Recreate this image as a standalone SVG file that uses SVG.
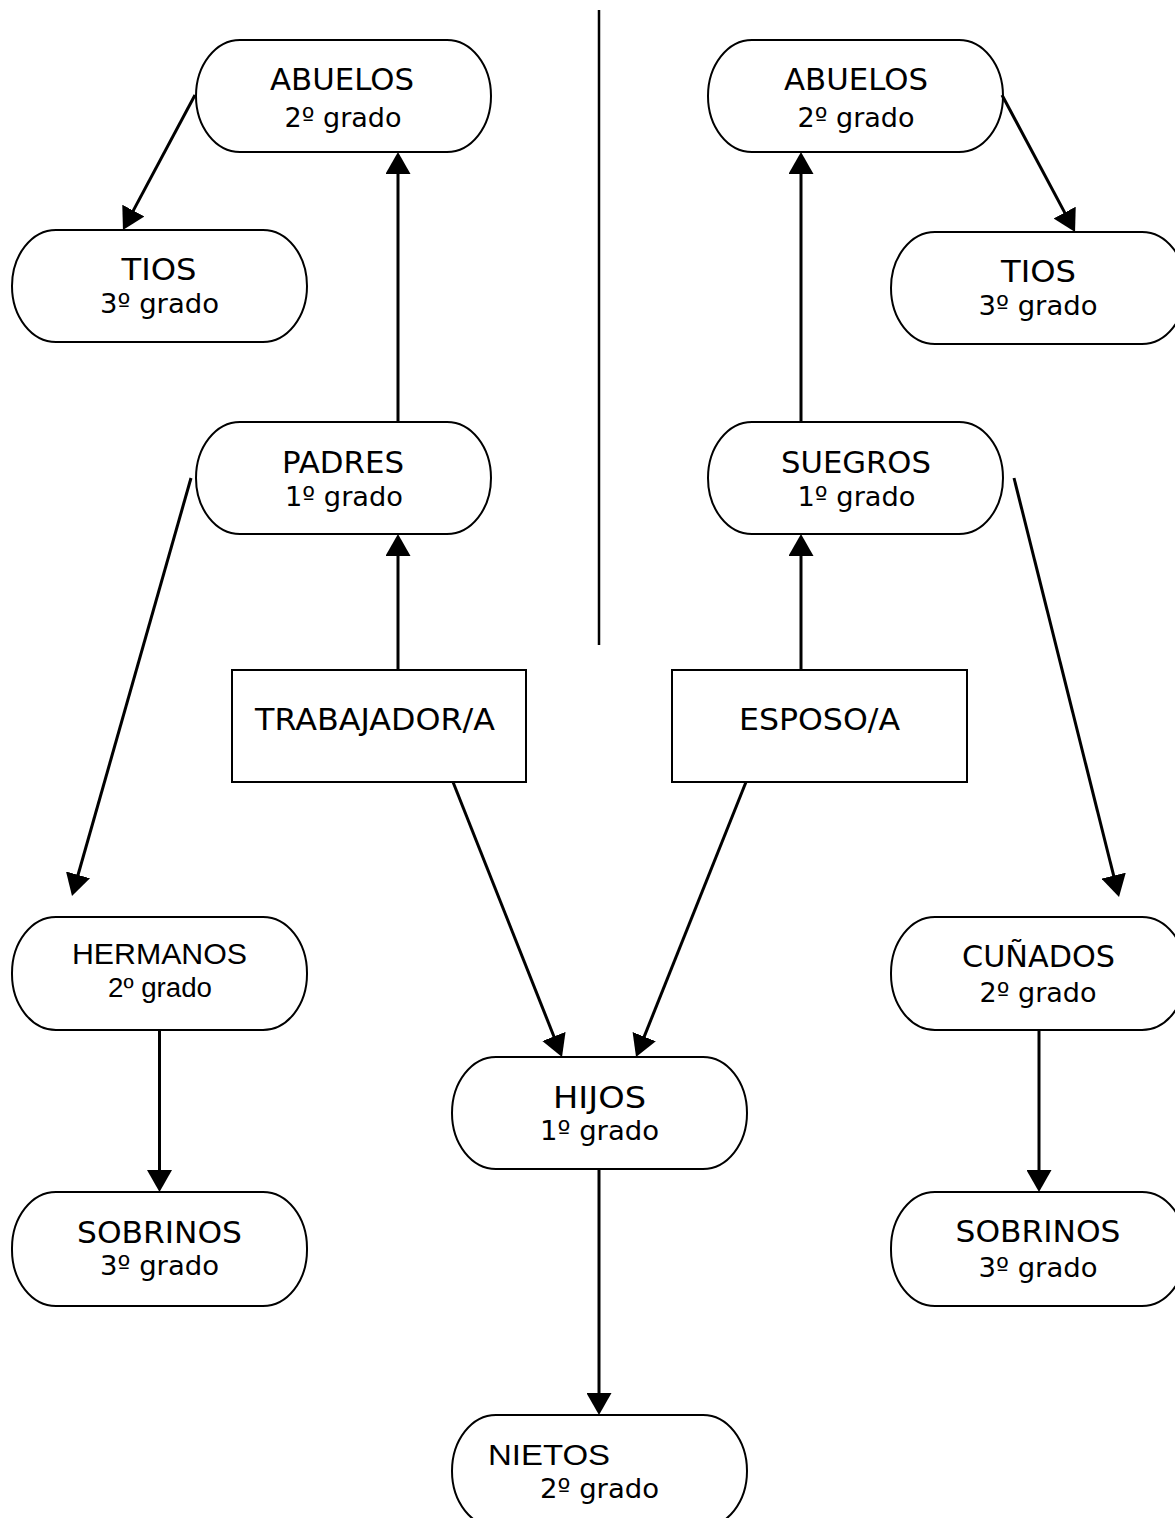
<svg xmlns="http://www.w3.org/2000/svg" width="1175" height="1518" viewBox="0 0 1175 1518">
<style>
.n{fill:#fff;stroke:#000;stroke-width:2}
.t{font-family:"DejaVu Sans",Verdana,sans-serif;font-size:30px;fill:#000;text-anchor:middle}
.s{font-family:"DejaVu Sans",Verdana,sans-serif;font-size:27px;fill:#000;text-anchor:middle}
.a{font-family:"Liberation Sans",Arial,sans-serif;font-size:30px;fill:#000;text-anchor:middle}
.as{font-family:"Liberation Sans",Arial,sans-serif;font-size:27px;fill:#000;text-anchor:middle}
.c{stroke:#000;stroke-width:3;fill:none}
.c line{marker-end:url(#ah)}
</style>
<defs>
<marker id="ah" viewBox="0 0 22 25" refX="10" refY="12.5" markerWidth="22" markerHeight="25" markerUnits="userSpaceOnUse" orient="auto">
<path d="M0,0 L22,12.5 L0,25 z" fill="#000"/>
</marker>
</defs>

<line x1="599" y1="10" x2="599" y2="645" stroke="#000" stroke-width="2.5"/>

<g id="abuelos-l"><rect class="n" x="196" y="40" width="295" height="112" rx="44" ry="56"/>
<text class="t" x="342" y="90" textLength="144" lengthAdjust="spacingAndGlyphs">ABUELOS</text>
<text class="s" x="343" y="127" textLength="117" lengthAdjust="spacingAndGlyphs">2º grado</text></g>

<g id="tios-l"><rect class="n" x="12" y="230" width="295" height="112" rx="44" ry="56"/>
<text class="t" x="159" y="280" textLength="75" lengthAdjust="spacingAndGlyphs">TIOS</text>
<text class="s" x="159.5" y="313" textLength="119" lengthAdjust="spacingAndGlyphs">3º grado</text></g>

<g id="padres"><rect class="n" x="196" y="422" width="295" height="112" rx="44" ry="56"/>
<text class="t" x="343" y="473" textLength="122" lengthAdjust="spacingAndGlyphs">PADRES</text>
<text class="s" x="344" y="506" textLength="118" lengthAdjust="spacingAndGlyphs">1º grado</text></g>

<g id="abuelos-r"><rect class="n" x="708" y="40" width="295" height="112" rx="44" ry="56"/>
<text class="t" x="856" y="90" textLength="144" lengthAdjust="spacingAndGlyphs">ABUELOS</text>
<text class="s" x="856" y="127" textLength="117" lengthAdjust="spacingAndGlyphs">2º grado</text></g>

<g id="tios-r"><rect class="n" x="891" y="232" width="295" height="112" rx="44" ry="56"/>
<text class="t" x="1038.5" y="282" textLength="75" lengthAdjust="spacingAndGlyphs">TIOS</text>
<text class="s" x="1038" y="315" textLength="119" lengthAdjust="spacingAndGlyphs">3º grado</text></g>

<g id="suegros"><rect class="n" x="708" y="422" width="295" height="112" rx="44" ry="56"/>
<text class="t" x="856" y="473" textLength="150" lengthAdjust="spacingAndGlyphs">SUEGROS</text>
<text class="s" x="856.5" y="506" textLength="118" lengthAdjust="spacingAndGlyphs">1º grado</text></g>

<g id="trabajador"><rect class="n" x="232" y="670" width="294" height="112"/>
<text class="t" x="375" y="730" textLength="240" lengthAdjust="spacingAndGlyphs">TRABAJADOR/A</text></g>

<g id="esposo"><rect class="n" x="672" y="670" width="295" height="112"/>
<text class="t" x="819.5" y="730" textLength="161" lengthAdjust="spacingAndGlyphs">ESPOSO/A</text></g>

<g id="hermanos"><rect class="n" x="12" y="917" width="295" height="113" rx="44" ry="56"/>
<text class="a" x="159.5" y="964" textLength="175" lengthAdjust="spacingAndGlyphs">HERMANOS</text>
<text class="as" x="160" y="997" textLength="104" lengthAdjust="spacingAndGlyphs">2º grado</text></g>

<g id="sobrinos-l"><rect class="n" x="12" y="1192" width="295" height="114" rx="44" ry="56"/>
<text class="t" x="159.5" y="1243" textLength="165" lengthAdjust="spacingAndGlyphs">SOBRINOS</text>
<text class="s" x="159.5" y="1275" textLength="119" lengthAdjust="spacingAndGlyphs">3º grado</text></g>

<g id="cunados"><rect class="n" x="891" y="917" width="295" height="113" rx="44" ry="56"/>
<text class="t" x="1038.5" y="967" textLength="153" lengthAdjust="spacingAndGlyphs">CUÑADOS</text>
<text class="s" x="1038" y="1002" textLength="117" lengthAdjust="spacingAndGlyphs">2º grado</text></g>

<g id="sobrinos-r"><rect class="n" x="891" y="1192" width="295" height="114" rx="44" ry="56"/>
<text class="t" x="1038" y="1242" textLength="165" lengthAdjust="spacingAndGlyphs">SOBRINOS</text>
<text class="s" x="1038" y="1277" textLength="119" lengthAdjust="spacingAndGlyphs">3º grado</text></g>

<g id="hijos"><rect class="n" x="452" y="1057" width="295" height="112" rx="44" ry="56"/>
<text class="t" x="599.5" y="1108" textLength="93" lengthAdjust="spacingAndGlyphs">HIJOS</text>
<text class="s" x="599.5" y="1140" textLength="119" lengthAdjust="spacingAndGlyphs">1º grado</text></g>

<g id="nietos"><rect class="n" x="452" y="1415" width="295" height="112" rx="44" ry="56"/>
<text class="a" x="488" y="1465" style="text-anchor:start" textLength="122" lengthAdjust="spacingAndGlyphs">NIETOS</text>
<text class="s" x="599.5" y="1498" textLength="119" lengthAdjust="spacingAndGlyphs">2º grado</text></g>

<g id="connectors" class="c">
<line x1="195" y1="95" x2="128.6" y2="219.4"/>
<line x1="398" y1="670" x2="398" y2="546"/>
<line x1="398" y1="422" x2="398" y2="164"/>
<line x1="191" y1="478" x2="75.3" y2="884.5"/>
<line x1="453" y1="782" x2="557.6" y2="1045.8"/>
<line x1="746" y1="782" x2="640.5" y2="1045.9"/>
<line x1="599" y1="1169" x2="599" y2="1403"/>
<line x1="159.5" y1="1030" x2="159.5" y2="1180"/>
<line x1="1039" y1="1030" x2="1039" y2="1180"/>
<line x1="801" y1="670" x2="801" y2="546"/>
<line x1="801" y1="422" x2="801" y2="164"/>
<line x1="1002" y1="95" x2="1069.4" y2="221.4"/>
<line x1="1014" y1="478" x2="1116.1" y2="885.4"/>
</g>
</svg>
